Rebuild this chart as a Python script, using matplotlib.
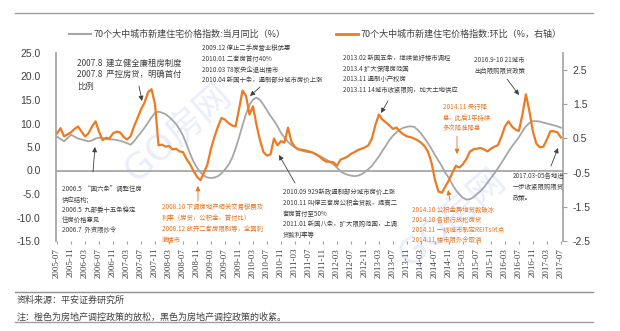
import numpy as np
import pandas as pd
import matplotlib
matplotlib.use("Agg")
import matplotlib.pyplot as plt
from matplotlib.lines import Line2D

plt.rcParams["font.family"] = ["Noto Sans CJK SC", "DejaVu Sans"]

W, H = 620, 331

# 月度数据 2005-07 ~ 2017-07
months = pd.date_range("2005-07-01", "2017-07-01", freq="MS")

# 当月同比(%)
yoy = [
    7.2, 6.7, 6.2, 6.9, 7.6, 7.2,
    6.8, 6.6, 6.4, 6.2, 6.4, 6.8, 7.0, 6.9, 6.7, 6.6, 6.6, 6.5,
    6.3, 6.1, 5.8, 5.5, 6.2, 7.2, 8.1, 9.1, 10.2, 11.3, 12.3, 12.5,
    12.3, 12.0, 11.4, 10.7, 9.9, 8.8, 7.4, 5.6, 3.6, 1.9, 0.6, -0.4,
    -1.1, -1.5, -1.6, -1.5, -1.2, -0.6, 0.2, 1.2, 2.6, 4.6, 7.0, 9.6,
    12.0, 14.0, 15.1, 15.5, 15.0, 14.0, 12.8, 11.6, 10.6, 9.4, 8.0, 7.0,
    6.1, 5.4, 4.9, 4.5, 4.2, 4.0, 3.9, 3.8, 3.5, 3.1, 2.7, 2.3,
    1.8, 1.3, 0.6, -0.2, -0.6, -0.9, -1.1, -1.2, -1.1, -0.8, -0.3, 0.3,
    1.0, 2.0, 3.0, 4.2, 5.3, 6.5, 7.4, 8.1, 8.7, 9.1, 9.3, 9.4,
    9.3, 8.7, 7.9, 6.9, 5.8, 4.6, 3.3, 2.1, 0.9, -0.5, -1.6, -3.0,
    -4.2, -5.1, -5.8, -6.2, -6.1, -5.7, -5.0, -4.4, -3.6, -2.6, -1.6, -0.6,
    0.5, 1.6, 2.8, 4.0, 5.1, 6.1, 7.1, 8.3, 9.4, 10.1, 10.5, 10.5,
    10.4, 10.2, 10.0, 9.8, 9.6, 9.4, 9.1,
]

# 环比(%，右轴)
mom = [
    0.65, 0.80, 0.56, 0.62, 0.68, 0.78,
    0.85, 0.70, 0.56, 0.65, 0.85, 1.00, 0.70, 0.45, 0.52, 0.50, 0.65, 0.70,
    0.68, 0.55, 0.47, 0.56, 0.85, 1.10, 1.35, 1.55, 1.85, 1.94, 1.50, 0.30,
    0.32, 0.26, 0.28, 0.18, 0.20, 0.12, 0.10, -0.10, -0.25, -0.45, -0.62, -0.72,
    -0.50, -0.25, 0.20, 0.55, 0.85, 1.10, 1.05, 0.95, 0.88, 0.85, 1.35, 1.90,
    1.75, 1.20, 1.44, 0.90, 0.45, 0.10, 0.00, 0.03, 0.50, 0.30, 0.42, 0.38,
    0.82, 0.40, 0.25, 0.18, 0.17, 0.15, 0.12, 0.09, 0.03, -0.03, -0.12, -0.18,
    -0.18, -0.20, -0.30, -0.12, -0.08, -0.03, 0.05, 0.10, 0.16, 0.20, 0.24, 0.30,
    0.50, 0.90, 1.20, 1.05, 0.97, 0.88, 0.78, 0.82, 0.70, 0.62, 0.56, 0.54,
    0.50, 0.45, 0.38, 0.28, 0.12, -0.20, -0.71, -1.05, -1.09, -0.90, -0.72, -0.50,
    -0.30, -0.35, -0.25, -0.10, 0.12, 0.18, 0.20, 0.22, 0.18, 0.12, 0.20, 0.26,
    0.30, 0.55, 0.85, 1.00, 0.85, 0.76, 0.72, 1.20, 1.79, 1.30, 0.70, 0.35,
    0.24, 0.26, 0.47, 0.71, 0.71, 0.68, 0.53,
]

yoy_label = "70个大中城市新建住宅价格指数:当月同比（%）"
mom_label = "70个大中城市新建住宅价格指数:环比（%，右轴）"

GRAY = "#A6A6A6"
ORANGE = "#EE7A22"
TXT = "#404040"
OTXT = "#E8731E"


def fx(px):
    return px / W


def fy(py):
    return 1 - py / H


fig = plt.figure(figsize=(W / 100, H / 100), dpi=100)
ax = fig.add_axes([fx(56), fy(241), (563 - 56) / W, (241 - 53) / H])
ax2 = ax.twinx()

x = np.arange(len(months))
ax.axhline(0, color="#A0A0A0", lw=1.2, zorder=1)
ax.plot(x, yoy, color=GRAY, lw=1.3, zorder=3)
ax2.plot(x, mom, color=ORANGE, lw=1.6, zorder=3)

ax.set_xlim(-0.3, len(months) - 0.4)
ax.set_ylim(-15, 25)
ax2.set_ylim(-2.5, 3.0)

ax.set_yticks(np.arange(-15, 26, 5))
ax.set_yticklabels([f"{v:.1f}" for v in np.arange(-15, 26, 5)])
ax2.set_yticks(np.arange(-2.5, 2.6, 1.0))
ax2.set_yticklabels([f"{v:.1f}" for v in np.arange(-2.5, 2.6, 1.0)])

ax.set_xticks(x[::4])
ax.set_xticklabels(months[::4].strftime("%Y-%m"), rotation=90,
                   family="Liberation Serif", fontsize=6.5, color=TXT)

for s in ["top", "bottom", "right"]:
    ax.spines[s].set_visible(False)
for s in ["top", "bottom", "left"]:
    ax2.spines[s].set_visible(False)
ax.spines["left"].set_color("#A0A0A0")
ax.spines["left"].set_linewidth(1.2)
ax2.spines["right"].set_color("#A0A0A0")
ax2.spines["right"].set_linewidth(1.2)

ax.tick_params(axis="y", length=0, pad=11, labelsize=7.5, labelcolor=TXT)
ax.tick_params(axis="x", length=2, color="#A0A0A0", pad=3)
ax2.tick_params(axis="y", length=3, color="#A0A0A0", pad=4,
                labelsize=7.5, labelcolor=TXT)
for lab in ax.get_yticklabels() + ax2.get_yticklabels():
    lab.set_family("Liberation Sans")

# 图例
handles = [Line2D([], [], color=GRAY, lw=1.5), Line2D([], [], color=ORANGE, lw=2)]
fig.legend(handles, [yoy_label, mom_label], loc="center left",
           bbox_to_anchor=(fx(69), fy(34)), ncol=2, frameon=False,
           fontsize=6.5, handlelength=2.4, handletextpad=0.3,
           columnspacing=5.6, borderaxespad=0, borderpad=0, labelcolor=TXT)


def note(lines, px, py, step=10.7, size=4.6, color=TXT):
    for i, line in enumerate(lines):
        fig.text(fx(px), fy(py + i * step), line, fontsize=size,
                 color=color, ha="left", va="center")


def arrow(x0, y0, x1, y1, color="#404040"):
    fig.add_artist(plt.Annotation(
        "", xy=(fx(x1), fy(y1)), xytext=(fx(x0), fy(y0)),
        xycoords="figure fraction", textcoords="figure fraction",
        arrowprops=dict(arrowstyle="-|>", color=color, lw=0.6,
                        mutation_scale=7, shrinkA=0, shrinkB=0)))


# 收紧政策（黑色）
note(["2007.8  建立健全廉租房制度", "2007.8  严控房贷，明确首付", "比例"],
     77, 63, step=11.5, size=6)
arrow(139, 86, 142, 101)

note(["2006.5  “国六条”调整住房", "供应结构;", "2006.5  九部委十五条稳定",
      "住房价格意见", "2006.7  外资限炒令"], 62, 189, step=10.3)
arrow(93, 172, 95, 147)

note(["2009.12 停止二手房营业税优惠", "2010.01 二套房首付40%",
      "2010.03 78家央企退出楼市", "2010.04 新国十条，遏制部分城市房价上涨"],
     202, 48, step=10.8)
arrow(260, 87, 250, 96)

note(["2010.09 929新政遏制部分城市房价上涨", "2010.11 叫停三套房公积金贷款，提高二",
      "套房首付至50%", "2011.01 新国八条，扩大限购范围，上调", "贷款利率等"],
     283, 192, step=10.8)
arrow(295, 183, 279, 155)

note(["2013.02 新国五条，继续做好楼市调控", "2013.4 扩大保障房范围",
      "2013.11 遏制小产权房", "2013.11 14城市收紧限购，加大土地供应"],
     343, 58, step=10.7)
arrow(388, 101, 381, 113)

note(["2016.9-10 21城市", "出台限购限贷政策"], 474, 60, step=11)
arrow(507, 79, 519, 95)

note(["2017.03-05各地进", "一步收紧限购限贷", "政策。"], 513, 176, step=11)
arrow(551, 166, 558, 148)

# 放松政策（橙色）
note(["2008.10 下调房地产相关交易税费及", "利率（房贷，公积金，首付比）",
      "2008.12 放开二套房限制等，全面刺", "激楼市"],
     162, 207, step=11, color=OTXT)
arrow(198, 201, 198, 186, color=OTXT)

note(["2014.11 央行降", "息，此后1年持续", "多次降准降息"],
     443, 107, step=10.7, color=OTXT)
arrow(457, 136, 457, 154, color=OTXT)

note(["2014.10 公积金异地贷款破冰", "2014.10 各银行放松房贷",
      "2014.11 一线城市制定REITs试点", "2014.11 楼市限外令取消"],
     412, 210, step=10, color=OTXT)
arrow(450, 200, 448, 190, color=OTXT)

# 水印
for cx, cy in [(178, 133), (452, 218)]:
    fig.text(fx(cx), fy(cy), "GO房网", fontsize=26, color="#9BAEF5",
             alpha=0.22, rotation=41, ha="center", va="center",
             family=["DejaVu Sans", "Noto Sans CJK SC"])

# 分隔线与注释
for py, c in [(13, "#A0A0A0"), (292, "#909090"), (322, "#A0A0A0")]:
    fig.add_artist(Line2D([fx(15), fx(593)], [fy(py), fy(py)], color=c, lw=1.0))

fig.text(fx(17), fy(300), "资料来源：平安证券研究所", fontsize=6.5,
         color=TXT, va="center", style="italic")
fig.text(fx(17), fy(317), "注：橙色为房地产调控政策的放松，黑色为房地产调控政策的收紧。",
         fontsize=6.5, color=TXT, va="center", style="italic")

fig.savefig("out.png", dpi=100)
